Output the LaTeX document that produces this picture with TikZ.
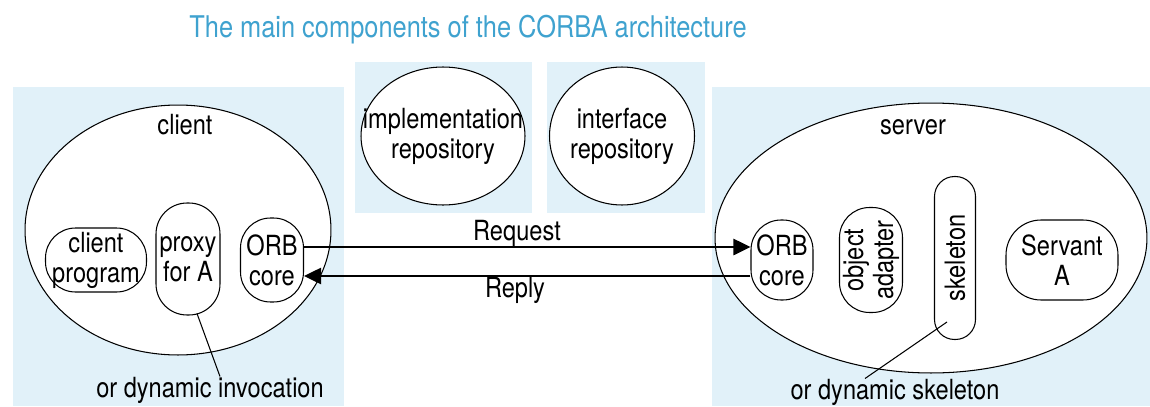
\documentclass[tikz,border=0pt]{standalone}
\usepackage{fontspec}
\setmainfont{TeX Gyre Heros}[FakeStretch=0.85]
\usetikzlibrary{arrows.meta,shapes.geometric}
\definecolor{panelazul}{HTML}{E1F1F9}
\definecolor{tituloazul}{HTML}{3FA2CF}
\tikzset{
  panel/.style    = {fill=panelazul, draw=none},
  proceso/.style  = {draw, ellipse, fill=white, line width=0.6pt, inner sep=0pt},
  comp/.style     = {draw, fill=white, align=center, line width=0.6pt, inner sep=0pt,
                     font=\fontsize{15.8}{17}\selectfont},
  texto/.style    = {align=center, inner sep=0pt, font=\fontsize{15.8}{17}\selectfont},
  titulo/.style   = {inner sep=0pt, text=tituloazul, font=\fontsize{17}{19}\selectfont},
  flecha/.style   = {-{Triangle[length=3.4mm,width=3.2mm]}, line width=1.5pt},
  guia/.style     = {line width=0.6pt},
}

\begin{document}
\begin{tikzpicture}[x=0.02cm, y=-0.02cm]
  \useasboundingbox (0,0) rectangle (1150,406);
  % fondos
  \fill[panel] (13,87) rectangle (344,406);
  \fill[panel] (355,62) rectangle (532,213);
  \fill[panel] (547,62) rectangle (705,213);
  \fill[panel] (712,87) rectangle (1150,406);
  \node[titulo] (titulo) at (468,30) {The main components of the CORBA architecture};
  % repositorios
  \node[proceso, minimum width=3.28cm, minimum height=2.76cm] (implrep) at (443,136) {};
  \node[texto] at (implrep) {implementation\\repository};
  \node[proceso, minimum width=2.9cm, minimum height=2.76cm] (interrep) at (622,136) {};
  \node[texto] at (interrep) {interface\\repository};
  % cliente
  \node[proceso, minimum width=6.12cm, minimum height=5cm] (cliente) at (178,230) {};
  \node[texto] (etqcliente) at (185,125) {client};
  \node[comp, minimum width=2.02cm, minimum height=1.28cm, rounded corners=0.6cm] (programa) at (96,260) {client\\program};
  \node[comp, minimum width=1.28cm, minimum height=2.24cm, rounded corners=0.62cm] (proxy) at (188,259) {proxy\\for A};
  \node[comp, minimum width=1.26cm, minimum height=1.68cm, rounded corners=0.6cm] (orbcli) at (272,260) {ORB\\core};
  % servidor
  \node[proceso, minimum width=8.64cm, minimum height=5.4cm] (servidor) at (931,238) {};
  \node[texto] (etqservidor) at (913,127) {server};
  \node[comp, minimum width=1.24cm, minimum height=1.6cm, rounded corners=0.6cm] (orbsrv) at (782,260) {ORB\\core};
  \node[comp, rotate=90, minimum width=2.1cm, minimum height=1.26cm, rounded corners=0.6cm] (adaptador) at (871,260) {object\\adapter};
  \node[comp, rotate=90, minimum width=3.26cm, minimum height=0.82cm, rounded corners=0.4cm] (esqueleto) at (955,258) {skeleton};
  \node[comp, minimum width=2.24cm, minimum height=1.6cm, rounded corners=0.7cm] (sirviente) at (1062,260) {Servant\\A};
  % mensajes
  \draw[flecha] ([yshift=0.26cm]orbcli.east) -- ([yshift=0.26cm]orbsrv.west);
  \draw[flecha] ([yshift=-0.32cm]orbsrv.west) -- ([yshift=-0.32cm]orbcli.east);
  \node[texto] (peticion) at (517,233) {Request};
  \node[texto] (respuesta) at (515,290) {Reply};
  % notas
  \node[texto] (invdin) at (210,390) {or dynamic invocation};
  \draw[guia] ([xshift=0.18cm,yshift=0.04cm]proxy.south) -- ([xshift=0.2cm]invdin.north);
  \node[texto] (esqdin) at (895,392) {or dynamic skeleton};
  \draw[guia] ([xshift=-0.16cm,yshift=-1.28cm]esqueleto.center) -- ([xshift=-0.6cm]esqdin.north);
\end{tikzpicture}
\end{document}
